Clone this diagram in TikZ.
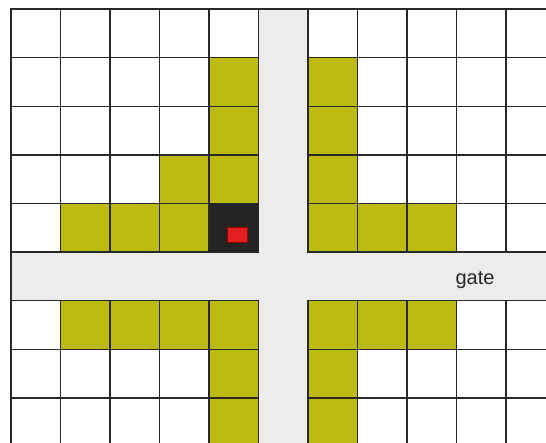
\documentclass[tikz,border=0pt]{standalone}
\usepackage{fontspec}
\setmainfont{Liberation Sans}
\definecolor{olive}{RGB}{189,186,18}
\definecolor{road}{RGB}{236,236,236}
\definecolor{darkcell}{RGB}{36,36,36}
\definecolor{redbox}{RGB}{226,32,32}
\definecolor{gridline}{RGB}{40,40,40}
\tikzset{
  cellbox/.style={draw=gridline, line width=1.4pt, fill=white},
  yelbox/.style={cellbox, fill=olive},
  darkbox/.style={cellbox, fill=darkcell},
  roadfill/.style={fill=road, draw=none},
  framebox/.style={draw=gridline, line width=1.4pt}
}
\begin{document}
\begin{tikzpicture}[x=1pt,y=-1pt]
\useasboundingbox (0,0) rectangle (546,442);
\clip (0,0) rectangle (546,442);
\fill[white] (0,0) rectangle (546,442);
\begin{scope}[shift={(11,9)}, x=49.5pt, y=-48.6pt]
  % roads
  \fill[roadfill] (5,0) rectangle (6,10);
  \fill[roadfill] (0,5) rectangle (12,5.98);
  % white cells
  \foreach \c in {0,...,4,6,7,...,10}
    \foreach \r in {0,...,4,6,7,8}
      \draw[cellbox] (\c,\r) rectangle ++(1,1);
  % yellow cells
  \foreach \c/\r in {4/1,4/2,4/3,3/3,1/4,2/4,3/4,
                     6/1,6/2,6/3,6/4,7/4,8/4,
                     1/6,2/6,3/6,4/6,4/7,4/8,
                     6/6,7/6,8/6,6/7,6/8}
      \draw[yelbox] (\c,\r) rectangle ++(1,1);
  \draw[darkbox] (4,4) rectangle ++(1,1);
  % frame
  \draw[framebox] (0,10) -- (0,0) -- (12,0);
\end{scope}
\draw[fill=redbox, draw=red!60!black, line width=0.8pt] (227,227) rectangle (247,242);
\node[anchor=base, font=\fontsize{20}{24}\selectfont, text=black!85, inner sep=0pt] (gate) at (475,284) {gate};
\end{tikzpicture}
\end{document}
